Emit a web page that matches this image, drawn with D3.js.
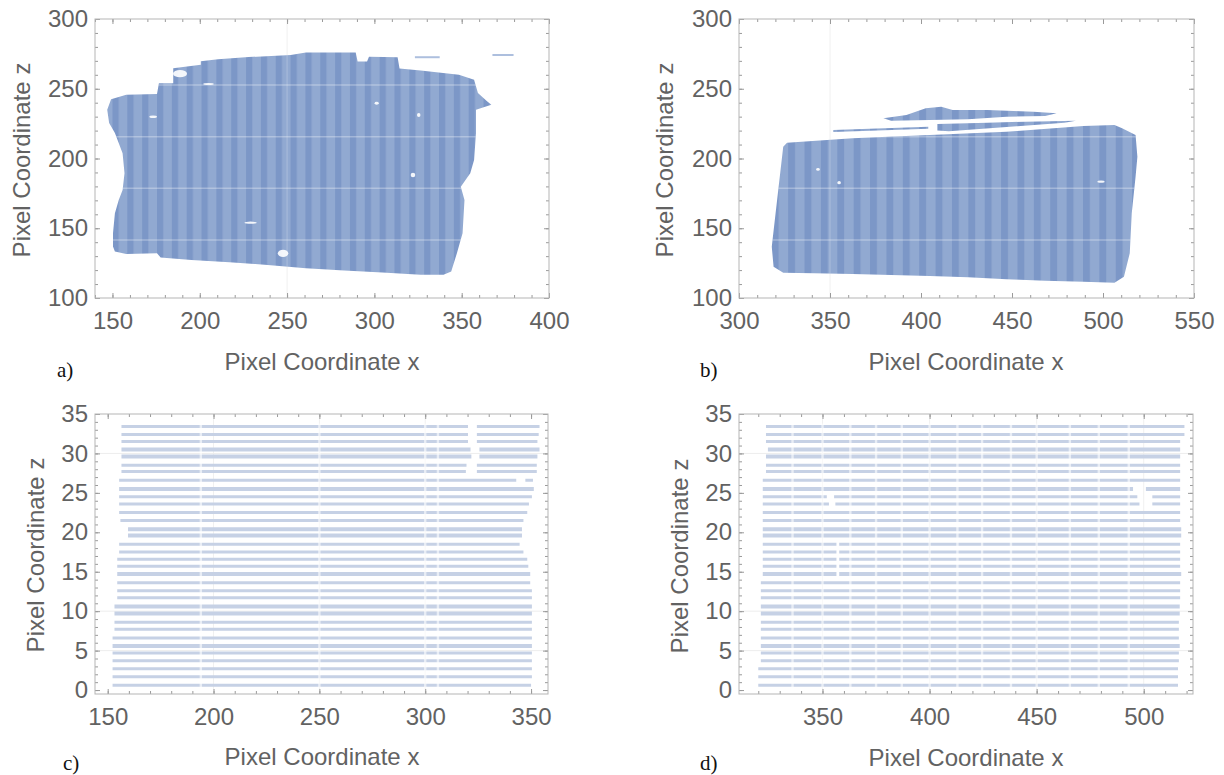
<!DOCTYPE html>
<html>
<head>
<meta charset="UTF-8">
<script src="https://d3js.org/d3.v7.min.js"></script>
<style>
  body { margin: 0; background: #fff; }
  svg text { font-family: "Liberation Sans", Arial, sans-serif; }
</style>
</head>
<body>
<svg class="chart"></svg>
<script>
var width = 1224, height = 775;

// tick labels
var aXTicks = [150, 200, 250, 300, 350, 400];
var bXTicks = [300, 350, 400, 450, 500, 550];
var cXTicks = [150, 200, 250, 300, 350];
var dXTicks = [350, 400, 450, 500];
var abZTicks = [100, 150, 200, 250, 300];
var cdZTicks = [0, 5, 10, 15, 20, 25, 30, 35];

// panel a: outline of the point cloud (x, z)
var aOutline = [[149.2,242.5],[157.9,245.7],[175.5,246.2],[176.6,254.0],[184.8,254.0],[184.8,264.7],
  [200.6,267.2],[200.6,269.8],[210.5,271.2],[228.0,272.7],[252.1,274.2],[260.8,275.9],[289.3,275.9],
  [290.4,269.5],[295.8,269.5],[296.9,273.0],[313.3,272.6],[314.4,264.6],[326.5,263.0],[348.4,260.0],
  [357.1,256.4],[359.3,246.9],[364.5,241.0],[367.0,238.5],[358.2,235.0],[358.2,218.2],[357.1,199.0],[354.9,189.4],
  [349.5,179.8],[351.6,170.3],[350.5,146.5],[347.3,132.2],[344.0,119.0],[339.6,116.6],[326.5,116.6],
  [304.6,118.3],[282.7,119.7],[260.8,121.3],[238.9,123.7],[217.0,125.6],[195.2,127.2],[177.6,129.1],
  [175.5,132.1],[157.9,131.6],[151.4,133.3],[150.3,136.9],[150.3,146.5],[151.4,160.8],[153.6,170.3],
  [155.8,177.4],[156.9,189.4],[155.8,203.8],[151.4,218.2],[148.1,225.4],[147.0,234.9]];
var aBits = [[[323.2,272.6],[337.4,272.6]], [[367.6,274.2],[379.7,274.2]]];
// holes: x, z, half width (x units), half height (z units)
var aHoles = [[247.7,132.0,3.0,2.6],[188.7,260.8,4.0,2.6],[173.3,230.0,2.2,0.9],[205.0,253.4,3.0,0.7],
  [301.3,239.6,1.2,1.0],[325.4,231.2,1.0,1.4],[322.1,188.2,1.3,1.6],[229.1,154.0,3.5,0.8]];

// panel b
var bOutline = [[326.4,211.3],[362.4,214.5],[404.7,216.8],[447.0,219.2],[489.3,223.3],[506.3,224.0],
  [510.5,221.6],[517.9,216.8],[518.9,201.3],[517.9,187.0],[515.8,160.7],[514.7,132.0],[511.5,115.3],
  [506.3,111.0],[489.3,111.7],[468.2,112.4],[447.0,113.4],[425.9,114.8],[404.7,115.8],[383.6,116.5],
  [362.4,117.2],[341.3,117.7],[324.3,118.1],[319.0,122.4],[318.0,136.8],[320.1,160.7],[322.2,184.6],
  [324.3,208.5]];
var bStreakTop = [[379.3,228.8],[392.0,231.2],[402.6,236.0],[411.1,237.1],[417.4,234.8],[436.5,234.8],
  [461.8,233.6],[474.5,232.4],[468.2,230.5],[447.0,230.0],[425.9,228.1],[404.7,227.6],[383.6,227.1]];
var bStreakThin = [[351.8,220.4],[404.0,222.8],[404.0,221.4],[351.8,219.0]];
var bStreakMid = [[409.0,224.7],[436.5,225.7],[457.6,226.4],[485.1,227.1],[478.8,225.7],[447.0,222.6],
  [415.3,219.6],[409.0,220.0]];
var bHoles = [[343.4,192.2,1.0,1.0],[355.0,182.7,1.0,1.1],[498.9,183.4,2.0,0.8]];

// light seams across the clouds
var seamZ = [252.7, 215.6, 178.6, 141.6];

// panels c and d: scan rows (z) and covered x intervals
var rowZ = [33.4, 32.4, 31.5, 30.5, 29.6, 28.5, 27.7, 26.6, 25.5, 24.5, 23.6, 22.5, 21.5, 20.4, 19.6,
  18.5, 17.5, 16.6, 15.7, 14.7, 13.6, 12.6, 11.7, 10.6, 9.7, 8.6, 7.7, 6.6, 5.6, 4.7, 3.7, 2.7, 1.7, 0.6];
var cSegs = [
  [[156.5,320.2],[324.4,354.0]], [[156.5,320.2],[324.4,353.6]], [[156.5,320.2],[324.4,353.0]],
  [[156.5,321.4],[325.6,354.0]], [[156.5,321.8],[325.6,353.0]], [[156.5,319.5],[324.4,352.7]],
  [[156.5,319.2],[324.4,352.7]], [[155.4,343.0],[347.3,350.9]], [[155.4,351.3]], [[155.4,350.4]],
  [[155.4,349.0]], [[155.4,348.2]], [[156.0,346.4]], [[159.6,345.7]], [[159.6,345.7]],
  [[155.4,344.6]], [[155.4,346.4]], [[154.5,348.2]], [[154.5,348.7]], [[154.5,349.6]],
  [[154.5,349.6]], [[154.5,350.4]], [[154.5,350.4]], [[153.2,350.4]], [[153.2,350.4]],
  [[153.2,350.4]], [[153.2,350.4]], [[152.3,350.4]], [[152.3,350.4]], [[152.3,350.4]],
  [[152.3,350.4]], [[152.3,350.4]], [[152.3,350.4]], [[152.3,350.0]]];
var dSegs = [
  [[323.6,519.0]], [[323.6,519.0]], [[323.6,517.0]], [[324.5,517.0]], [[323.6,517.0]], [[323.6,517.0]],
  [[323.6,517.0]], [[322.1,517.0]], [[322.1,495.0],[501.0,517.0]],
  [[322.1,352.0],[355.4,497.0],[504.0,517.0]], [[322.1,353.0],[356.0,498.0],[504.0,517.0]],
  [[322.1,517.0]], [[322.1,517.0]], [[322.1,517.5]], [[322.1,517.5]],
  [[322.1,356.5],[357.8,517.0]], [[322.1,356.5],[357.8,517.0]], [[322.1,356.5],[357.8,517.0]],
  [[322.1,356.5],[357.8,517.0]], [[322.1,356.5],[357.8,517.5]],
  [[321.2,517.0]], [[321.2,517.0]], [[321.2,517.0]], [[321.2,516.8]], [[321.2,516.8]],
  [[321.2,516.4]], [[321.2,516.4]], [[321.2,516.4]], [[321.2,516.8]], [[321.2,516.4]],
  [[321.2,516.4]], [[320.0,516.0]], [[320.0,516.0]], [[320.0,516.0]]];
var cGaps = [194, 250, 300, 306];
var dGaps = [336, 350, 363, 375, 387, 400, 413, 424.5, 438, 450, 465.5, 479, 493];
var thickRows = [30.5, 29.6, 25.5, 20.4, 19.6, 14.7, 10.6, 9.7, 5.6];

var panels = [
  {key: "a", box: [95, 549, 19, 298], xd: [140, 400], zd: [100, 300], xt: aXTicks, zt: abZTicks,
   xMinor: 10, zMinor: 10, letter: "a)", letterAt: [57, 377], xTitleAt: [322, 370], zTitleAt: [30, 160],
   gridX: [250], gridZ: []},
  {key: "b", box: [739, 1194, 19, 298], xd: [300, 550], zd: [100, 300], xt: bXTicks, zt: abZTicks,
   xMinor: 10, zMinor: 10, letter: "b)", letterAt: [700, 377], xTitleAt: [966, 370], zTitleAt: [673, 160],
   gridX: [350], gridZ: []},
  {key: "c", box: [95, 548, 414, 694], xd: [144, 358], zd: [-0.5, 35], xt: cXTicks, zt: cdZTicks,
   xMinor: 10, zMinor: 1, letter: "c)", letterAt: [63, 770], xTitleAt: [322, 765], zTitleAt: [44, 555],
   gridX: [200, 250, 300], gridZ: [5, 10, 30]},
  {key: "d", box: [739, 1193, 414, 694], xd: [311, 523], zd: [-0.5, 35], xt: dXTicks, zt: cdZTicks,
   xMinor: 10, zMinor: 1, letter: "d)", letterAt: [700, 770], xTitleAt: [966, 766], zTitleAt: [688, 556],
   gridX: [350, 400, 450, 500], gridZ: [5, 10, 30]}
];

var textColor = "#626262",
    frameColor = "#b5b5b5",
    lightBlue = "#91a9d1",
    darkBlue = "#7c97c7",
    rowColor = "#c6d1e5";

var svg = d3.select(".chart").attr("width", width).attr("height", height);
var defs = svg.append("defs");
defs.append("filter").attr("id", "soft")
    .append("feGaussianBlur").attr("stdDeviation", 0.55);

var line = d3.line();

function ticksFrom(domain, step) {
  return d3.range(Math.ceil(domain[0] / step) * step, domain[1] + 1e-6, step);
}

function drawGrid(g, p, x, z) {
  var b = p.box;
  g.selectAll(".gx").data(p.gridX).enter().append("line")
   .attr("x1", function(d) { return x(d); }).attr("x2", function(d) { return x(d); })
   .attr("y1", b[2]).attr("y2", b[3])
   .attr("stroke", "#f0f0f0").attr("stroke-width", 1);
  g.selectAll(".gz").data(p.gridZ).enter().append("line")
   .attr("x1", b[0]).attr("x2", b[1])
   .attr("y1", function(d) { return z(d); }).attr("y2", function(d) { return z(d); })
   .attr("stroke", "#ededed").attr("stroke-width", 1);
}

function drawCloud(g, p, x, z, shapes, holes, step) {
  var b = p.box;
  var id = "reg" + p.key;
  var clip = defs.append("clipPath").attr("id", id);
  shapes.forEach(function(s) {
    clip.append("path").attr("d", line(s.map(function(d) { return [x(d[0]), z(d[1])]; })) + "Z");
  });
  var pw = x(p.xd[0] + step) - x(p.xd[0]);
  var pat = defs.append("pattern").attr("id", "st" + p.key)
      .attr("patternUnits", "userSpaceOnUse")
      .attr("x", x(p.xt[0])).attr("y", 0)
      .attr("width", pw).attr("height", 10);
  pat.append("rect").attr("width", pw).attr("height", 10).attr("fill", lightBlue);
  pat.append("rect").attr("width", pw * 0.42).attr("height", 10).attr("fill", darkBlue);

  var soft = g.append("g").attr("filter", "url(#soft)");
  var r = soft.append("g").attr("clip-path", "url(#" + id + ")");
  r.append("rect").attr("x", b[0]).attr("y", b[2])
   .attr("width", b[1] - b[0]).attr("height", b[3] - b[2])
   .attr("fill", "url(#st" + p.key + ")");
  r.selectAll(".seam").data(seamZ).enter().append("line")
   .attr("x1", b[0]).attr("x2", b[1])
   .attr("y1", function(d) { return z(d); }).attr("y2", function(d) { return z(d); })
   .attr("stroke", "#fff").attr("stroke-opacity", 0.3).attr("stroke-width", 1.5);
  r.selectAll(".gseam").data(p.gridX).enter().append("line")
   .attr("x1", function(d) { return x(d); }).attr("x2", function(d) { return x(d); })
   .attr("y1", b[2]).attr("y2", b[3])
   .attr("stroke", "#fff").attr("stroke-opacity", 0.2).attr("stroke-width", 1.2);
  soft.selectAll(".hole").data(holes).enter().append("ellipse")
   .attr("cx", function(d) { return x(d[0]); })
   .attr("cy", function(d) { return z(d[1]); })
   .attr("rx", function(d) { return x(p.xd[0] + d[2]) - x(p.xd[0]); })
   .attr("ry", function(d) { return z(p.zd[0]) - z(p.zd[0] + d[3]); })
   .attr("fill", "#fff").attr("fill-opacity", 0.9);
}

function drawRows(g, p, x, z, segs, gaps) {
  var flat = [];
  rowZ.forEach(function(zv, i) {
    segs[i].forEach(function(s) { flat.push({z: zv, x0: s[0], x1: s[1]}); });
  });
  g.selectAll(".row").data(flat).enter().append("line")
   .attr("x1", function(d) { return x(d.x0); })
   .attr("x2", function(d) { return x(d.x1); })
   .attr("y1", function(d) { return z(d.z); })
   .attr("y2", function(d) { return z(d.z); })
   .attr("stroke", rowColor)
   .attr("stroke-width", function(d) { return thickRows.indexOf(d.z) >= 0 ? 4 : 3; });
  var top = z(d3.max(rowZ)) - 3, bot = z(d3.min(rowZ)) + 3;
  g.selectAll(".gap").data(gaps).enter().append("rect")
   .attr("x", function(d) { return x(d) - 1.2; })
   .attr("width", 2.4)
   .attr("y", top).attr("height", bot - top)
   .attr("fill", "#fff").attr("fill-opacity", 0.6);
}

function drawAxes(g, p, x, z) {
  var b = p.box;
  var mx = ticksFrom(p.xd, p.xMinor), mz = ticksFrom(p.zd, p.zMinor);
  var axes = [
    [d3.axisBottom(x).tickValues(mx).tickSize(-3).tickFormat(""), "translate(0," + b[3] + ")"],
    [d3.axisBottom(x).tickValues(p.xt).tickSize(-5).tickPadding(14), "translate(0," + b[3] + ")"],
    [d3.axisTop(x).tickValues(mx).tickSize(-3).tickFormat(""), "translate(0," + b[2] + ")"],
    [d3.axisTop(x).tickValues(p.xt).tickSize(-5).tickFormat(""), "translate(0," + b[2] + ")"],
    [d3.axisLeft(z).tickValues(mz).tickSize(-3).tickFormat(""), "translate(" + b[0] + ",0)"],
    [d3.axisLeft(z).tickValues(p.zt).tickSize(-5).tickPadding(7), "translate(" + b[0] + ",0)"],
    [d3.axisRight(z).tickValues(mz).tickSize(-3).tickFormat(""), "translate(" + b[1] + ",0)"],
    [d3.axisRight(z).tickValues(p.zt).tickSize(-5).tickFormat(""), "translate(" + b[1] + ",0)"]
  ];
  axes.forEach(function(a) {
    var ag = g.append("g").attr("transform", a[1]).call(a[0]);
    ag.select(".domain").remove();
    ag.selectAll("line").attr("stroke", "#9a9a9a");
    ag.selectAll("text").attr("fill", textColor)
      .style("font-size", "24px").style("font-family", "'Liberation Sans', Arial, sans-serif");
  });
  g.append("rect").attr("x", b[0]).attr("y", b[2])
   .attr("width", b[1] - b[0]).attr("height", b[3] - b[2])
   .attr("fill", "none").attr("stroke", frameColor).attr("stroke-width", 1);
}

function drawTitles(g, p) {
  g.append("text").attr("x", p.xTitleAt[0]).attr("y", p.xTitleAt[1])
   .attr("text-anchor", "middle").attr("fill", textColor)
   .style("font-size", "24px").text("Pixel Coordinate x");
  g.append("text")
   .attr("transform", "translate(" + p.zTitleAt[0] + "," + p.zTitleAt[1] + ") rotate(-90)")
   .attr("text-anchor", "middle").attr("fill", textColor)
   .style("font-size", "24px").text("Pixel Coordinate z");
  g.append("text").attr("x", p.letterAt[0]).attr("y", p.letterAt[1])
   .attr("fill", "#111")
   .style("font-family", "'Liberation Serif', 'Times New Roman', serif")
   .style("font-size", "21px").text(p.letter);
}

panels.forEach(function(p) {
  var x = d3.scaleLinear().domain(p.xd).range([p.box[0], p.box[1]]);
  var z = d3.scaleLinear().domain(p.zd).range([p.box[3], p.box[2]]);
  var g = svg.append("g").attr("id", "panel-" + p.key);
  drawGrid(g, p, x, z);
  if (p.key === "a") {
    drawCloud(g, p, x, z, [aOutline], aHoles, 8.5);
    g.selectAll(".bit").data(aBits).enter().append("path")
     .attr("d", function(d) { return line(d.map(function(q) { return [x(q[0]), z(q[1])]; })); })
     .attr("stroke", "#adbfde").attr("stroke-width", 2).attr("fill", "none");
  } else if (p.key === "b") {
    drawCloud(g, p, x, z, [bOutline, bStreakTop, bStreakThin, bStreakMid], bHoles, 9);
  } else if (p.key === "c") {
    drawRows(g, p, x, z, cSegs, cGaps);
  } else {
    drawRows(g, p, x, z, dSegs, dGaps);
  }
  drawAxes(g, p, x, z);
  drawTitles(g, p);
});
</script>
</body>
</html>
